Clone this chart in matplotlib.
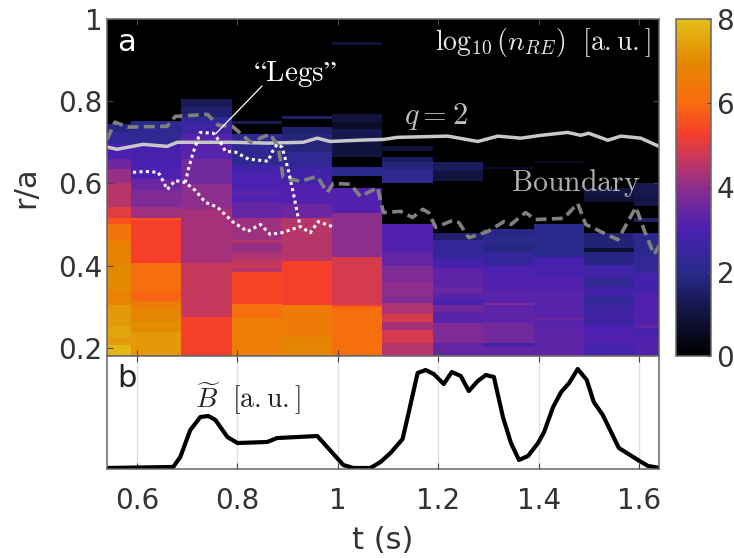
import matplotlib
matplotlib.use("Agg")

import matplotlib.pyplot as plt
from matplotlib.colors import LinearSegmentedColormap, Normalize

# time edges of the density columns
t_edges = [0.54, 0.588, 0.688, 0.789, 0.889, 0.989, 1.089, 1.189, 1.29, 1.39, 1.49, 1.59, 1.64]

# r/a edges (top to bottom) and log10 density of every column
col_r = [
    [.744, .724, .695, .659, .634, .602, .542, .517, .500, .461, .402, .337, .324, .305, .251, .227, .207, .180],
    [.751, .732, .695, .646, .610, .585, .542, .515, .510, .407, .339, .315, .300, .263, .251, .239, .180],
    [.805, .785, .761, .749, .720, .659, .598, .537, .407, .275, .180],
    [.751, .744, .720, .644, .622, .585, .568, .554, .517, .463, .456, .434, .415, .402, .395, .385, .307, .273, .180],
    [.763, .756, .737, .720, .676, .646, .634, .598, .549, .517, .410, .305, .227, .180],
    [.944, .937, .768, .749, .732, .707, .663, .641, .617, .590, .529, .420, .305, .300, .180],
    [.690, .678, .663, .651, .634, .602, .500, .432, .398, .359, .324, .310, .281, .263, .244, .212, .180],
    [.651, .629, .605, .480, .463, .415, .395, .349, .334, .317, .305, .288, .261, .212, .180],
    [.639, .634, .490, .475, .456, .432, .398, .383, .341, .310, .305, .261, .212, .202, .180],
    [.654, .649, .500, .420, .373, .337, .273, .268, .249, .180],
    [.590, .568, .554, .480, .444, .432, .402, .371, .349, .324, .310, .293, .268, .256, .236, .212, .205, .180],
    [.602, .573, .544, .517, .507, .480, .420, .383, .361, .334, .256, .249, .229, .180],
]
col_v = [
    [1.9, 2.4, 3.0, 3.5, 4.1, 4.5, 5.0, 5.6, 6.3, 6.8, 7.0, 6.8, 6.9, 7.3, 7.5, 7.3, 7.8],
    [2.0, 2.2, 2.9, 3.0, 3.5, 3.8, 4.2, 5.6, 5.3, 6.1, 5.9, 6.5, 6.9, 7.1, 7.0, 7.3],
    [1.3, 1.6, 2.2, 2.6, 3.2, 3.6, 4.0, 4.3, 4.7, 5.3],
    [1.3, 0, 2.1, 2.8, 3.0, 3.2, 3.0, 3.4, 4.2, 4.5, 4.1, 4.4, 4.6, 4.8, 4.5, 5.4, 6.1, 6.6],
    [1.5, 0, 1.6, 1.8, 2.2, 2.4, 2.8, 3.1, 3.5, 4.5, 5.3, 6.5, 6.9],
    [.9, 0, 1.0, .6, 1.2, 1.0, 0, 2.0, 0, 3.1, 4.0, 4.9, 5.5, 6.2],
    [.9, 0, 1.4, 1.8, 2.1, 0, 3.1, 3.4, 3.8, 4.0, 3.8, 4.4, 4.9, 4.3, 4.9, 4.5],
    [1.4, 1.0, 0, 1.6, 2.3, 2.9, 3.3, 3.5, 3.2, 2.9, 3.6, 3.2, 3.8, 3.4],
    [.6, 0, 1.9, 2.0, 1.9, 2.4, 3.0, 3.1, 3.2, 3.8, 3.3, 3.6, 2.8, 3.4],
    [.5, 0, 2.0, 2.9, 3.1, 3.2, 3.5, 3.2, 3.3],
    [1.0, .8, 0, 1.7, .8, 1.9, 2.7, 2.2, 2.8, 2.2, 2.5, 2.7, 2.5, 3.0, 3.1, 2.7, 2.9],
    [1.2, 1.1, 0, 1.5, 0, 2.0, 2.3, 2.9, 2.8, 3.1, 3.4, 2.9, 3.1],
]

leg1_t = [.592, .616, .642, .650, .660, .676, .696, .716, .736, .760, .790, .820, .846, .865, .889, .925, .945, .961, .989]
leg1_r = [.627, .629, .627, .610, .585, .607, .602, .583, .554, .542, .507, .483, .500, .476, .480, .495, .480, .507, .495]
leg2_t = [.696, .702, .712, .726, .752, .766, .776, .796, .822, .861, .869, .879, .889, .901, .911, .919, .925]
leg2_r = [.602, .634, .676, .724, .722, .700, .678, .676, .659, .654, .676, .695, .688, .634, .578, .529, .495]

q2_t = [.542, .560, .612, .660, .680, .792, .859, .931, .959, .985, 1.039, 1.091, 1.119, 1.219, 1.279, 1.319,
        1.365, 1.405, 1.458, 1.484, 1.500, 1.538, 1.564, 1.604, 1.640]
q2_r = [.688, .683, .695, .690, .700, .700, .698, .700, .710, .702, .705, .707, .712, .715, .702, .715,
        .710, .717, .724, .717, .722, .705, .715, .710, .690]

bnd_t = [.540, .556, .582, .660, .676, .740, .762, .790, .826, .865, .881, .891, .925, .959, .979, .991, 1.025,
         1.045, 1.079, 1.091, 1.125, 1.149, 1.169, 1.181, 1.195, 1.229, 1.241, 1.261, 1.299, 1.331, 1.345, 1.374,
         1.394, 1.450, 1.478, 1.494, 1.558, 1.594, 1.610, 1.630, 1.642]
bnd_r = [.707, .749, .737, .739, .763, .768, .741, .739, .700, .720, .690, .615, .605, .617, .578, .600, .598,
         .568, .590, .529, .532, .517, .537, .529, .493, .510, .505, .468, .483, .507, .500, .529,
         .512, .515, .551, .500, .463, .542, .488, .427, .451]

b_t = [.540, .672, .686, .706, .726, .742, .756, .780, .800, .859, .879, .959, 1.011, 1.031, 1.065, 1.085, 1.105,
       1.129, 1.141, 1.159, 1.175, 1.191, 1.211, 1.227, 1.245, 1.261, 1.279, 1.295, 1.311, 1.329, 1.345, 1.361,
       1.379, 1.399, 1.411, 1.429, 1.445, 1.461, 1.478, 1.496, 1.510, 1.528, 1.560, 1.598, 1.618, 1.642]
b_v = [.009, .018, .106, .345, .460, .469, .434, .283, .230, .239, .274, .292, .035, .009, .009, .062, .142,
       .265, .496, .850, .876, .841, .752, .858, .823, .690, .779, .832, .814, .460, .230, .080,
       .115, .230, .327, .549, .681, .761, .885, .788, .593, .478, .186, .080, .027, .009]

x_ticks = [0.6, 0.8, 1.0, 1.2, 1.4, 1.6]
x_labels = ["0.6", "0.8", "1", "1.2", "1.4", "1.6"]
y_ticks = [0.2, 0.4, 0.6, 0.8, 1.0]
y_labels = ["0.2", "0.4", "0.6", "0.8", "1"]

cmap_colors = ["#000000", "#121440", "#2a2a8c", "#4a20b2", "#8c2e8e", "#cf3a55",
               "#f53f2a", "#f96a10", "#e48800", "#e3bf1a"]
cmap_stops = [0, 1 / 8, 2 / 8, 3 / 8, 4 / 8, 4.8 / 8, 5.3 / 8, 6 / 8, 7 / 8, 1]

FRAME = "#666666"
TEXT = "#333333"
W, H = 734, 558

plt.rcParams["mathtext.fontset"] = "cm"
fig = plt.figure(figsize=(W / 100, H / 100), dpi=100)
ax = fig.add_axes([107 / W, 1 - 356 / H, 552 / W, 337 / H])
ax_b = fig.add_axes([107 / W, 1 - 469 / H, 552 / W, 113 / H])
cax = fig.add_axes([676 / W, 1 - 356 / H, 35 / W, 337 / H])

cmap = LinearSegmentedColormap.from_list("re", list(zip(cmap_stops, cmap_colors)), N=256)
norm = Normalize(0, 8)

ax.set_facecolor("black")
for i in range(len(col_v)):
    mesh = ax.pcolormesh(t_edges[i:i + 2], col_r[i], [[v] for v in col_v[i]], cmap=cmap, norm=norm, linewidth=0)

ax.plot(q2_t, q2_r, color="#c8c8c8", lw=2.5)
ax.plot(bnd_t, bnd_r, color="#808080", lw=2.6, dashes=(3.0, 1.5))
ax.plot(leg1_t, leg1_r, color="white", lw=2.2, dashes=(1, 1.1))
ax.plot(leg2_t, leg2_r, color="white", lw=2.2, dashes=(1, 1.1))

ax.set_xlim(0.54, 1.64)
ax.set_ylim(0.18, 1.0)
ax.set_xticks(x_ticks)
ax.set_xticklabels([])
ax.set_yticks(y_ticks)
ax.set_yticklabels(y_labels, fontsize=20, color=TEXT)
ax.tick_params(direction="in", length=4, width=0.8, color="#444444", top=True, right=True, pad=3)
ax.set_ylabel("r/a", fontsize=22, color=TEXT, labelpad=13)

ax.text(0.5795, 0.943, "a", color="white", fontsize=22, ha="center", va="center")
ax.text(1.623, 0.944, r"$\log_{10}(n_{RE})\ \ [\mathrm{a{.}u{.}}]$", color="#e8e8e8", fontsize=20, ha="right", va="center")
ax.text(1.195, 0.762, r"$q=2$", color="#c0c0c0", fontsize=22, ha="center", va="center")
ax.text(1.475, 0.601, r"$\mathrm{Boundary}$", color="#b0b0b0", fontsize=21.5, ha="center", va="center")
ax.text(0.914, 0.866, r"$\mathrm{“Legs”}$", color="white", fontsize=21, ha="center", va="center")
ax.annotate("", xy=(0.756, 0.720), xytext=(0.849, 0.837),
            arrowprops=dict(arrowstyle="-", color="white", lw=0.9, shrinkA=0, shrinkB=0))

ax_b.plot(b_t, b_v, color="black", lw=3)
ax_b.set_xlim(0.54, 1.64)
ax_b.set_ylim(0, 1)
ax_b.set_xticks(x_ticks)
ax_b.set_xticklabels(x_labels, fontsize=20, color=TEXT)
ax_b.set_yticks([])
ax_b.grid(True, axis="x", color="#e0e0e0", lw=1)
ax_b.set_axisbelow(True)
ax_b.tick_params(direction="in", length=4, width=0.8, color="#444444", top=True, pad=13)
ax_b.set_xlabel("t (s)", fontsize=22, color=TEXT, labelpad=8)
ax_b.text(0.5795, 0.805, "b", color="#222222", fontsize=22, ha="center", va="center")
ax_b.text(0.821, 0.62, r"$\widetilde{B}\ \ [\mathrm{a{.}u{.}}]$", color="#222222", fontsize=20, ha="center", va="center")

cb = fig.colorbar(mesh, cax=cax)
cb.set_ticks([0, 2, 4, 6, 8])
cb.ax.tick_params(direction="in", length=3, width=0.8, color="#444444", labelsize=20, labelcolor=TEXT, pad=4)

for a in (ax, ax_b, cax):
    for spine in a.spines.values():
        spine.set_color(FRAME)
        spine.set_linewidth(1.1)
cb.outline.set_edgecolor(FRAME)
cb.outline.set_linewidth(1.1)

fig.savefig("out.png", dpi=100)
plt.close(fig)
